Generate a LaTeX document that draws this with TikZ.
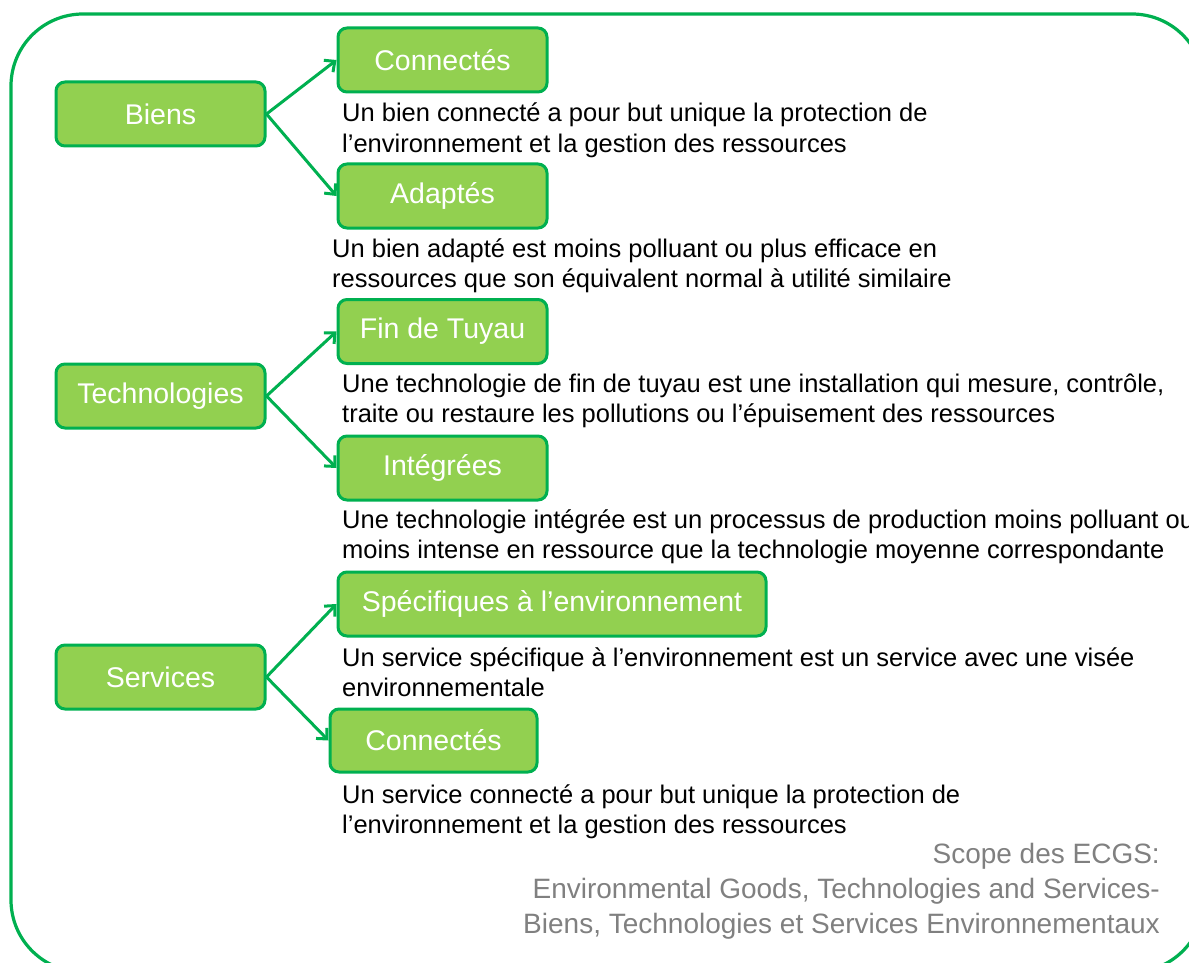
\documentclass[tikz,border=0pt]{standalone}
\usepackage{fontspec}
\setmainfont{Liberation Sans}
\usetikzlibrary{arrows.meta}
\definecolor{bordergreen}{HTML}{00B050}
\definecolor{fillgreen}{HTML}{92D050}
\definecolor{notegray}{HTML}{808080}
\tikzset{
  catbox/.style={draw=bordergreen, fill=fillgreen, line width=3pt, rounded corners=9pt,
    text=white, font=\fontsize{28.5}{34}\selectfont, inner sep=0pt},
  desc/.style={anchor=base west, align=left, inner sep=0pt, text=black,
    font=\fontsize{25.5}{30.5}\selectfont},
  arr/.style={draw=bordergreen, line width=3pt, -{Straight Barb[length=8pt,width=15pt]}},
}
\begin{document}
\begin{tikzpicture}[x=1pt,y=-1pt]
\useasboundingbox (0,0) rectangle (1189,963);
\clip (0,0) rectangle (1189,963);
\draw[bordergreen, line width=3.2pt, rounded corners=72pt] (11,14) rectangle (1204,972);

% left categories
\node[catbox, minimum width=209pt, minimum height=64pt] (biens) at (160.5,114) {Biens};
\node[catbox, minimum width=209pt, minimum height=64pt] (tech) at (160.5,396) {Technologies};
\node[catbox, minimum width=209pt, minimum height=64pt] (serv) at (160.5,677) {Services};

% sub categories
\node[catbox, minimum width=209pt, minimum height=64pt] (conn1) at (442.5,60) {Connectés};
\node[catbox, minimum width=209pt, minimum height=64pt] (adap) at (442.5,196) {Adaptés};
\node[catbox, minimum width=209pt, minimum height=64pt] (fin) at (442.5,331.5) {Fin de Tuyau};
\node[catbox, minimum width=209pt, minimum height=64pt] (integ) at (442.5,468) {Intégrées};
\node[catbox, minimum width=428pt, minimum height=64pt] (spec) at (552,604) {Spécifiques à l’environnement};
\node[catbox, minimum width=207pt, minimum height=63pt] (conn2) at (433.5,740.5) {Connectés};

% connectors
\draw[arr] (biens.east) -- (conn1.west);
\draw[arr] (biens.east) -- (adap.west);
\draw[arr] (tech.east) -- (fin.west);
\draw[arr] (tech.east) -- (integ.west);
\draw[arr] (serv.east) -- (spec.west);
\draw[arr] (serv.east) -- (conn2.west);

% descriptions (anchored at the baseline of the last line)
\node[desc] (d1) at (342,152.5) {Un bien connecté a pour but unique la protection de\\l’environnement et la gestion des ressources};
\node[desc] (d2) at (332,287.5) {Un bien adapté est moins polluant ou plus efficace en\\ressources que son équivalent normal à utilité similaire};
\node[desc] (d3) at (342,422.5) {Une technologie de fin de tuyau est une installation qui mesure, contrôle,\\traite ou restaure les pollutions ou l’épuisement des ressources};
\node[desc] (d4) at (342,558.5) {Une technologie intégrée est un processus de production moins polluant ou\\moins intense en ressource que la technologie moyenne correspondante};
\node[desc] (d5) at (342,696.5) {Un service spécifique à l’environnement est un service avec une visée\\environnementale};
\node[desc] (d6) at (342,833.5) {Un service connecté a pour but unique la protection de\\l’environnement et la gestion des ressources};

% note
\node[anchor=base east, align=right, inner sep=0pt, text=notegray,
  font=\fontsize{28}{35}\selectfont] (note) at (1160,933)
  {Scope des ECGS:\\Environmental Goods, Technologies and Services-\\Biens, Technologies et Services Environnementaux};
\end{tikzpicture}
\end{document}
